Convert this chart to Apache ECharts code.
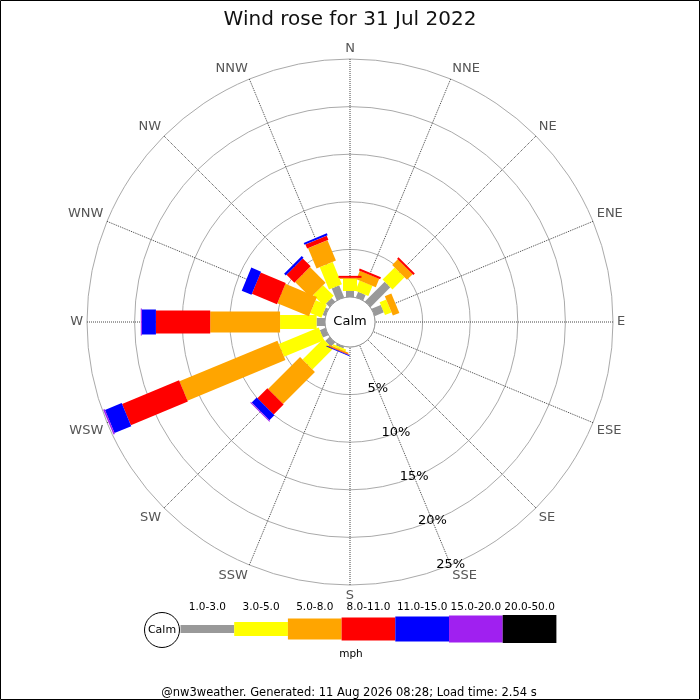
<!DOCTYPE html>
<html>
<head>
<meta charset="utf-8">
<title>Wind rose</title>
<script src="https://cdn.jsdelivr.net/npm/echarts@6/dist/echarts.min.js"></script>
<style>
    html, body { margin: 0; padding: 0; background: #fff; }
    #rose { width: 700px; height: 700px; }
</style>
</head>
<body>
<div id="rose"></div>
<script>
// directions, clockwise from north
var directions = ['N', 'NNE', 'NE', 'ENE', 'E', 'ESE', 'SE', 'SSE', 'S', 'SSW', 'SW', 'WSW', 'W', 'WNW', 'NW', 'NNW'];

// speed bands (mph) and their colours
var bandLabels = ['1.0-3.0', '3.0-5.0', '5.0-8.0', '8.0-11.0', '11.0-15.0', '15.0-20.0', '20.0-50.0'];
var bandColors = ['#999999', '#ffff00', '#ffa500', '#ff0000', '#0000ff', '#a020f0', '#000000'];
var bandWidths = [8, 14, 21, 23, 25, 27, 28];

// % of time per direction for each band
var speed1to3 = [0.63, 0.63, 2.95, 1.05, 0, 0, 0, 0, 0, 0.21, 0.63, 0.63, 0.88, 0.32, 0.53, 1.37];
var speed3to5 = [1.27, 1.16, 1.79, 0.74, 0, 0, 0, 0, 0, 0.21, 3.06, 4.54, 3.84, 1.27, 1.58, 2.53];
var speed5to8 = [0.11, 0.95, 0.84, 0.74, 0, 0, 0, 0, 0, 0.16, 4.75, 11.14, 7.34, 3.59, 2.32, 2.32];
var speed8to11 = [0.21, 0.21, 0.21, 0, 0, 0, 0, 0, 0, 0.05, 1.48, 6.48, 5.70, 2.85, 1.16, 0.47];
var speed11to15 = [0, 0, 0, 0, 0, 0, 0, 0, 0, 0.08, 0.74, 1.90, 1.48, 1.11, 0.26, 0.22];
var speed15to20 = [0, 0, 0, 0, 0, 0, 0, 0, 0, 0, 0.11, 0.16, 0.11, 0, 0, 0];
var speed20to50 = [0, 0, 0, 0, 0, 0, 0, 0, 0, 0, 0, 0, 0, 0, 0, 0];

// radial ticks
var radiusTicks = [5, 10, 15, 20, 25];

var bands = [speed1to3, speed3to5, speed5to8, speed8to11, speed11to15, speed15to20, speed20to50];
var font = 'DejaVu Sans';
var cx = 350, cy = 322, innerR = 25, outerR = 263;

//stack the bands outwards from the calm circle
var cum = directions.map(function () { return 0; });
var series = bands.map(function (vals, b) {
    var data = [];
    vals.forEach(function (v, i) {
        if (v > 0) {
            data.push([i * 22.5, cum[i], cum[i] + v]);
            cum[i] += v;
        }
    });
    return {
        name: bandLabels[b],
        type: 'custom',
        coordinateSystem: 'polar',
        polarIndex: 0,
        encode: { angle: 0, radius: 2 },
        data: data,
        renderItem: function (params, api) {
            var ang = api.value(0);
            var p0 = api.coord([api.value(1), ang]);
            var p1 = api.coord([api.value(2), ang]);
            var dx = p1[0] - p0[0], dy = p1[1] - p0[1];
            var len = Math.sqrt(dx * dx + dy * dy);
            if (len < 0.01) return;
            var hw = bandWidths[b] / 2;
            var nx = -dy / len * hw, ny = dx / len * hw;
            return {
                type: 'polygon',
                shape: {
                    points: [
                        [p0[0] + nx, p0[1] + ny], [p1[0] + nx, p1[1] + ny],
                        [p1[0] - nx, p1[1] - ny], [p0[0] - nx, p0[1] - ny]
                    ]
                },
                style: { fill: bandColors[b] }
            };
        }
    };
});

//legend blocks under the rose
var legendFont = '10.5px "DejaVu Sans"';
var legendGraphics = [
    { type: 'circle', shape: { cx: 162, cy: 630, r: 17.5 }, style: { fill: '#fff', stroke: '#000', lineWidth: 1 }, z: 10 },
    { type: 'text', x: 162, y: 630, style: { text: 'Calm', font: '11px "DejaVu Sans"', fill: '#000', align: 'center', verticalAlign: 'middle' }, z: 11 },
    { type: 'text', x: 351, y: 654, style: { text: 'mph', font: legendFont, fill: '#000', align: 'center', verticalAlign: 'middle' }, z: 11 }
];
bandLabels.forEach(function (lab, i) {
    var x0 = 180.5 + i * 53.7;
    legendGraphics.push({
        type: 'rect',
        shape: { x: x0, y: 629 - bandWidths[i] / 2, width: 53.7, height: bandWidths[i] },
        style: { fill: bandColors[i] },
        z: 5
    });
    legendGraphics.push({
        type: 'text', x: x0 + 26.85, y: 607,
        style: { text: lab, font: legendFont, fill: '#000', align: 'center', verticalAlign: 'middle' },
        z: 11
    });
});

var chart = echarts.init(document.getElementById('rose'));
option = {
    backgroundColor: '#fff',
    animation: false,
    title: {
        text: 'Wind rose for 31 Jul 2022',
        left: 'center',
        top: 5,
        textStyle: { fontFamily: font, fontSize: 20, fontWeight: 'normal', color: '#111' }
    },
    polar: [
        { center: [cx, cy], radius: [innerR, outerR] },
        { center: [cx, cy], radius: [innerR, outerR] }
    ],
    angleAxis: [
        {
            polarIndex: 0,
            type: 'value',
            min: 0,
            max: 360,
            interval: 22.5,
            startAngle: 90,
            clockwise: true,
            axisLine: { show: false },
            axisTick: { show: false },
            axisLabel: {
                margin: 4,
                fontFamily: font,
                fontSize: 13,
                color: '#555',
                formatter: function (v) { return directions[Math.round(v / 22.5) % 16]; }
            },
            splitLine: { show: true, lineStyle: { color: '#444', type: 'dotted', width: 1 } }
        },
        {
            polarIndex: 1,
            type: 'value',
            min: 0,
            max: 360,
            startAngle: -67.5,
            clockwise: true,
            show: false
        }
    ],
    radiusAxis: [
        {
            polarIndex: 0,
            type: 'value',
            min: 0,
            max: 25,
            interval: 5,
            axisLine: { show: false },
            axisTick: { show: false },
            axisLabel: { show: false },
            splitLine: { show: true, lineStyle: { color: '#aaa', width: 1 } }
        },
        {
            polarIndex: 1,
            type: 'value',
            min: 0,
            max: radiusTicks[radiusTicks.length - 1],
            interval: radiusTicks[1] - radiusTicks[0],
            axisLine: { show: false },
            axisTick: { show: false },
            splitLine: { show: false },
            axisLabel: {
                showMinLabel: false,
                margin: 0,
                align: 'center',
                verticalAlign: 'middle',
                fontFamily: font,
                fontSize: 13,
                color: '#000',
                formatter: '{value}%'
            },
            z: 20
        }
    ],
    series: series,
    graphic: [
        { type: 'circle', shape: { cx: cx, cy: cy, r: innerR }, style: { fill: '#fff', stroke: '#999', lineWidth: 1 }, z: 50 },
        { type: 'text', x: cx, y: cy, style: { text: 'Calm', font: '13px "DejaVu Sans"', fill: '#000', align: 'center', verticalAlign: 'middle' }, z: 51 },
        { type: 'text', x: 349, y: 693, style: { text: '@nw3weather. Generated: 11 Aug 2026 08:28; Load time: 2.54 s', font: '11.5px "DejaVu Sans"', fill: '#000', align: 'center', verticalAlign: 'middle' }, z: 51 },
        { type: 'rect', shape: { x: 0.5, y: 0.5, width: 699, height: 699 }, style: { fill: 'none', stroke: '#000', lineWidth: 1 }, z: 60 }
    ].concat(legendGraphics)
};
chart.setOption(option);
</script>
</body>
</html>
